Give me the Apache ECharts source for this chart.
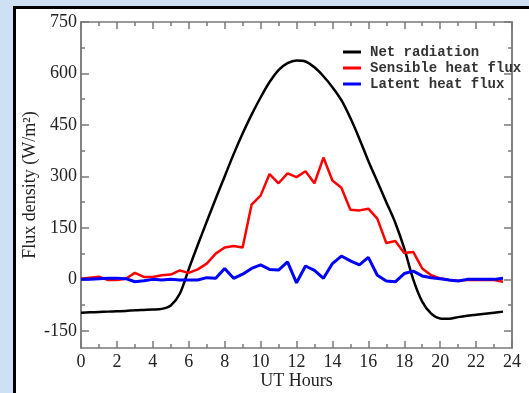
<!DOCTYPE html>
<html>
<head>
<meta charset="utf-8">
<script src="https://cdn.jsdelivr.net/npm/echarts@6/dist/echarts.min.js"></script>
<style>
html,body{margin:0;padding:0;background:#cde0f4;}
#c{width:529px;height:393px;}
</style>
</head>
<body>
<div id="c"></div>
<script>
// Time axis (UT hours, half-hourly)
var hours = [0,0.5,1,1.5,2,2.5,3,3.5,4,4.5,5,5.5,6,6.5,7,7.5,8,8.5,9,9.5,10,10.5,11,11.5,12,12.5,13,13.5,14,14.5,15,15.5,16,16.5,17,17.5,18,18.5,19,19.5,20,20.5,21,21.5,22,22.5,23,23.5];
var netRadiation = [-97,-96,-95,-94,-93,-92,-90,-89,-88,-86,-76,-42,30,100,168,235,300,365,425,480,530,575,610,630,638,635,618,592,560,522,470,410,345,285,225,165,90,0,-65,-100,-114,-115,-110,-106,-103,-100,-97,-94];
var sensibleHeat = [2,5,8,-2,-2,2,19,7,7,12,14,26,19,29,46,75,93,97,93,218,244,307,280,309,298,315,280,355,288,267,203,201,206,177,106,112,77,80,32,12,3,-2,-4,-2,-2,-2,-2,-7];
var latentHeat = [0,0,2,3,3,2,-7,-4,0,-2,0,-2,-2,-2,5,3,32,3,15,32,42,29,27,51,-10,39,26,3,46,68,54,42,64,12,-5,-7,17,24,10,5,2,-2,-5,0,0,0,0,3];
var yMajorTicks = [-150,0,150,300,450,600,750];
var yMinorTicks = [-75,75,225,375,525,675];
var seriesNames = ['Net radiation','Sensible heat flux','Latent heat flux'];

function pairs(v){ return hours.map(function(h,i){ return [h, v[i]]; }); }

var axisColor = '#7a7a7a';
var serif = 'Liberation Serif';

var chart = echarts.init(document.getElementById('c'), null, {renderer:'canvas'});
var yBase = {type:'value', min:-200, max:750, splitLine:{show:false},
  axisLine:{show:true, lineStyle:{color:axisColor, width:1.5}}};
chart.setOption({
  animation:false,
  backgroundColor:'#cde0f4',
  graphic:[{type:'rect', z:-10, shape:{x:14.5, y:7.5, width:600, height:500},
    style:{fill:'#ffffff', stroke:'#000000', lineWidth:3}}],
  grid:{left:81, right:17, top:22, bottom:45, containLabel:false, outerBoundsMode:'none'},
  legend:{orient:'vertical', left:338, top:39, itemWidth:18, itemHeight:3, itemGap:0,
    icon:'rect',
    textStyle:{fontFamily:'Liberation Mono', fontWeight:'bold', fontSize:14, color:'#333', lineHeight:16, padding:[0,0,0,4]},
    data:seriesNames},
  xAxis:[
    {type:'value', min:0, max:24, interval:2, position:'bottom',
     name:'UT Hours', nameLocation:'middle', nameGap:24, nameMoveOverlap:false,
     nameTextStyle:{fontFamily:serif, fontSize:18, color:'#222'},
     axisLine:{show:true, onZero:false, lineStyle:{color:axisColor, width:1.5}},
     axisTick:{show:true, inside:true, length:7, lineStyle:{color:axisColor, width:1.5}},
     minorTick:{show:true, splitNumber:2, length:4, lineStyle:{color:axisColor, width:1.5}},
     axisLabel:{fontFamily:serif, fontSize:18, color:'#222', margin:5},
     splitLine:{show:false}},
    {type:'value', min:0, max:24, interval:2, position:'top',
     axisLine:{show:true, onZero:false, lineStyle:{color:axisColor, width:1.5}},
     axisTick:{show:true, inside:true, length:7, lineStyle:{color:axisColor, width:1.5}},
     minorTick:{show:true, splitNumber:2, length:4, lineStyle:{color:axisColor, width:1.5}},
     axisLabel:{show:false}, splitLine:{show:false}}
  ],
  yAxis:[
    Object.assign({}, yBase, {position:'left',
      name:'Flux density (W/m\u00B2)', nameLocation:'middle', nameGap:42, nameMoveOverlap:false,
      nameTextStyle:{fontFamily:serif, fontSize:18, color:'#222'},
      axisTick:{show:true, inside:true, length:8, customValues:yMajorTicks, lineStyle:{color:axisColor, width:1.5}},
      axisLabel:{show:true, customValues:yMajorTicks, fontFamily:serif, fontSize:18, color:'#222', margin:4}}),
    Object.assign({}, yBase, {position:'left',
      axisTick:{show:true, inside:true, length:4, customValues:yMinorTicks, lineStyle:{color:axisColor, width:1.5}},
      axisLabel:{show:false}}),
    Object.assign({}, yBase, {position:'right',
      axisTick:{show:true, inside:true, length:8, customValues:yMajorTicks, lineStyle:{color:axisColor, width:1.5}},
      axisLabel:{show:false}}),
    Object.assign({}, yBase, {position:'right',
      axisTick:{show:true, inside:true, length:4, customValues:yMinorTicks, lineStyle:{color:axisColor, width:1.5}},
      axisLabel:{show:false}})
  ],
  series:[
    {name:seriesNames[0], type:'line', data:pairs(netRadiation), showSymbol:false, symbol:'none', smooth:0.3,
     lineStyle:{color:'#000000', width:2.5}, itemStyle:{color:'#000000'}},
    {name:seriesNames[1], type:'line', data:pairs(sensibleHeat), showSymbol:false, symbol:'none',
     lineStyle:{color:'#ff0000', width:2.5}, itemStyle:{color:'#ff0000'}},
    {name:seriesNames[2], type:'line', data:pairs(latentHeat), showSymbol:false, symbol:'none',
     lineStyle:{color:'#0000ff', width:3}, itemStyle:{color:'#0000ff'}}
  ]
});
</script>
</body>
</html>
